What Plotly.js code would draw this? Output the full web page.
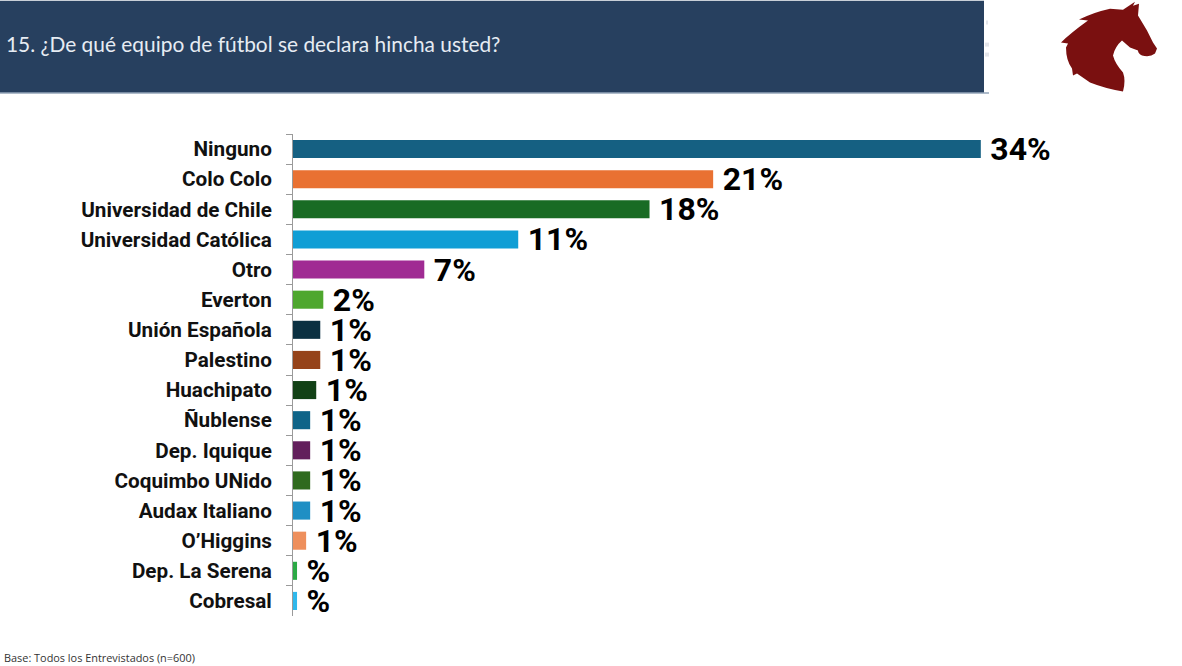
<!DOCTYPE html>
<html><head><meta charset="utf-8">
<script src="https://cdn.plot.ly/plotly-3.0.1.min.js"></script>
<style>html,body{margin:0;padding:0;background:#fff}#c{width:1182px;height:666px}</style></head>
<body><div id="c"></div>
<script>
const categories = ["Ninguno","Colo Colo","Universidad de Chile","Universidad Católica","Otro","Everton","Unión Española","Palestino","Huachipato","Ñublense","Dep. Iquique","Coquimbo UNido","Audax Italiano","O’Higgins","Dep. La Serena","Cobresal"];
const values = [34.05,20.8,17.65,11.15,6.5,1.5,1.35,1.35,1.15,0.85,0.85,0.85,0.85,0.65,0.2,0.2];
const labels = ["34%","21%","18%","11%","7%","2%","1%","1%","1%","1%","1%","1%","1%","1%","%","%"];
const colors = ["#156082","#E97132","#196B24","#0F9ED5","#A02B93","#4EA72E","#0B3041","#95431A","#124116","#0F6488","#621F5C","#2F6A1E","#1F8FC4","#EE8F5C","#2BAA45","#2FB8EC"];
const titleText = "15. ¿De qué equipo de fútbol se declara hincha usted?";
const footText = "Base: Todos los Entrevistados (n=600)";

const W=1182,H=666,L=293,T=133.5,R=150,B=50;
const PW=W-L-R,PH=H-T-B;
const px=p=>(p-L)/PW, py=p=>1-(p-T)/PH;
const rect=(x0,y0,x1,y1,c)=>({type:"rect",xref:"paper",yref:"paper",x0:px(x0),x1:px(x1),y0:py(y0),y1:py(y1),fillcolor:c,line:{width:0},layer:"below"});

const horse="M175 1 L173 5 L179 3 L178 15 L187 30 L193 42 L197 48 L195 53 Q190 57 182 55 Q178 53 178 50 L170 47 L162 40 Q155 46 153 55 Q155 63 163 72 Q166 80 163 91 Q145 88 130 82 L117 73 L113 75 L112 68 Q106 60 106 47 L108 43 L101 42 Q110 33 128 20 L119 19 Q132 12 150 8 L163 9 Z";
const svg=`<svg xmlns="http://www.w3.org/2000/svg" viewBox="90 0 120 100" width="120" height="100"><path fill="#7A1010" d="${horse}"/></svg>`;
const svgUri="data:image/svg+xml;utf8,"+encodeURIComponent(svg);

const trace={type:"bar",orientation:"h",y:categories,x:values,text:labels.map(s=>"\u2009"+s),textposition:"outside",cliponaxis:false,constraintext:"none",
 marker:{color:colors,line:{width:0}},
 textfont:{family:"Roboto, sans-serif",size:32,color:"#000",weight:700},hoverinfo:"skip",width:0.6};

const layout={width:W,height:H,margin:{l:L,r:R,t:T,b:B,pad:0},paper_bgcolor:"#fff",plot_bgcolor:"#fff",showlegend:false,bargap:0.4,
 xaxis:{range:[0,PW/20.2],visible:false,fixedrange:true},
 yaxis:{type:"category",autorange:"reversed",tickson:"boundaries",ticks:"outside",ticklen:6,tickcolor:"#9A9A9A",tickwidth:1,
  showline:true,linecolor:"#9A9A9A",linewidth:1,showgrid:false,zeroline:false,ticklabelstandoff:16,automargin:false,
  tickfont:{family:"Roboto, sans-serif",size:20.7,color:"#111",weight:700}},
 shapes:[rect(0,0,984,92,"#27405F"),rect(0,92,989,93,"#5F7896"),rect(986,20,988,24,"#E3E5EA"),rect(985,42,989,46,"#E3E5EA"),rect(985,52,989,56,"#E3E5EA")],
 annotations:[
  {xref:"paper",yref:"paper",x:px(4),y:py(43),xanchor:"left",yanchor:"middle",text:titleText,showarrow:false,font:{family:"Lato, sans-serif",size:20.9,color:"#E6ECF3"}},
  {xref:"paper",yref:"paper",x:px(2),y:py(658),xanchor:"left",yanchor:"middle",text:footText,showarrow:false,font:{family:"Open Sans, sans-serif",size:10.9,color:"#333"}}
 ],
 images:[{source:svgUri,xref:"paper",yref:"paper",x:px(1050),y:py(0),sizex:120/PW,sizey:100/PH,xanchor:"left",yanchor:"top",sizing:"stretch",layer:"above"}]
};
Plotly.newPlot("c",[trace],layout,{displayModeBar:false,staticPlot:true});
</script></body></html>
